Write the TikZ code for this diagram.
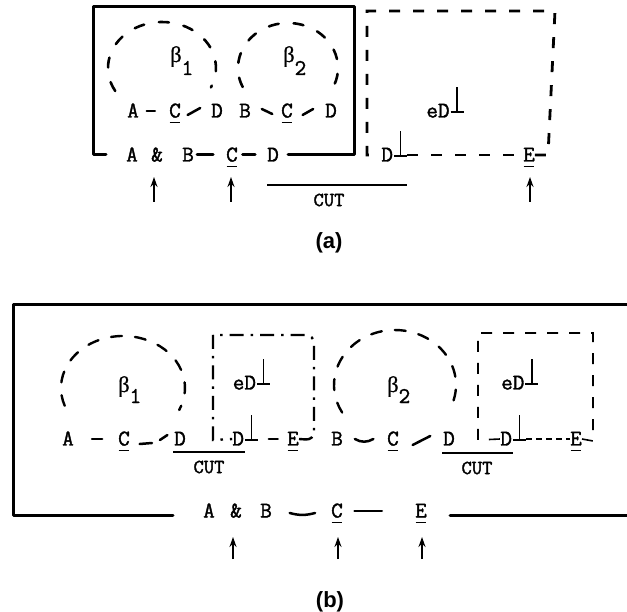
\documentclass[tikz,border=0pt]{standalone}
\usepackage{fontspec}
\newfontfamily\tw[FakeBold=1.6]{Latin Modern Mono}
\newfontfamily\grk[FakeBold=0.8]{Liberation Serif}
\newfontfamily\lblfont{Liberation Sans}
\usetikzlibrary{calc,arrows.meta}
\newcommand\perpm{\kern1pt\rlap{\rule[4.5pt]{13pt}{1.6pt}}\kern5.7pt\rule[4.5pt]{1.6pt}{25.5pt}\kern5.7pt}
\newcommand\und[1]{\setbox0\hbox{#1}\rlap{\kern0.5pt\rule[-6pt]{\dimexpr\wd0-1pt\relax}{1.5pt}}\box0}
\newcommand\seg[5][]{\draw[#1] ($(#2)!#4!(#3)$) -- ($(#2)!#5!(#3)$);}
\newcommand\bet{{\grk β}}
\tikzset{
  txt/.style={font=\tw\fontsize{22.5}{24}\selectfont, inner sep=0pt, text height=13pt, text depth=0pt},
  cuttxt/.style={font=\tw\fontsize{20}{22}\selectfont, inner sep=0pt},
  lbl/.style={font=\lblfont\bfseries\fontsize{22}{24}\selectfont, inner sep=0pt},
  solidline/.style={line width=3pt, line cap=round, line join=round},
  sdash/.style={line width=2.5pt, line cap=round},
  loopa/.style={line width=2.6pt, dash pattern=on 10pt off 15pt, line cap=round},
  loopb/.style={line width=2.4pt, dash pattern=on 11pt off 13pt, line cap=round},
  boxa/.style={line width=2.8pt, dash pattern=on 11pt off 13pt},
  boxdd/.style={line width=2.4pt, dash pattern=on 14pt off 7pt on 2.5pt off 7pt},
  boxb/.style={line width=1.6pt, dash pattern=on 11pt off 11pt},
  shortd/.style={line width=1.6pt, dash pattern=on 6pt off 4pt},
  cutline/.style={line width=1.5pt},
  uparrow/.style={line width=1.8pt, -{Stealth[length=10pt,width=7pt]}}
}
\begin{document}
\begin{tikzpicture}[x=1pt,y=-1pt]
\useasboundingbox (0,0) rectangle (627,612);
% ================= (a) =================
% upper row
\node[txt] (aA1) at (133,111) {A};
\node[txt] (aC1) at (175,111) {\und{C}};
\node[txt] (aD1) at (217,111) {D};
\node[txt] (aB2) at (245,111) {B};
\node[txt] (aC2) at (287,111) {\und{C}};
\node[txt] (aD2) at (331,111) {D};
\node[txt, anchor=base west] (ab1) at (170,62) {\bet\raisebox{-13pt}{1}};
\node[txt, anchor=base west] (ab2) at (283,62) {\bet\raisebox{-13pt}{2}};
\node[txt, anchor=west] (aeD) at (426.2,111) {eD\perpm};
% lower row
\node[txt] (aA) at (132,155) {A};
\node[txt] (aAmp) at (157,155) {\&};
\node[txt] (aB) at (188,155) {B};
\node[txt] (aC) at (232,155) {\und{C}};
\node[txt] (aD) at (273,155) {D};
\node[txt, anchor=west] (aDp) at (381.2,155) {D\perpm};
\node[txt] (aE) at (529,155) {\und{E}};
% loops
\draw[loopa] (162,68) ++(150:54 and 46) arc[start angle=150, end angle=385, x radius=54, y radius=46];
\draw[loopa] (288,68) ++(155:50 and 45) arc[start angle=155, end angle=390, x radius=50, y radius=45];
\seg[sdash]{aA1.east}{aC1.west}{.26}{.53}
\draw[sdash] ($(aC1.east)!.22!(aD1.west)+(0,4)$) -- ($(aC1.east)!.64!(aD1.west)+(0,-3)$);
\draw[sdash] ($(aB2.east)!.36!(aC2.west)+(0,-2)$) -- ($(aC2.west)!.29!(aB2.east)+(0,3)$);
\draw[sdash] ($(aC2.east)!.3!(aD2.west)+(0,4)$) -- ($(aC2.east)!.63!(aD2.west)+(0,-2)$);
% solid box
\coordinate (aSL) at (106,155);
\coordinate (aSR) at (288,155);
\draw[solidline] (aSL) -- (93,155) -- (93,7) -- (354,7) -- (354,155) -- (aSR);
\seg[solidline]{aB.east}{aC.west}{.1}{.6}
\seg[solidline]{aC.east}{aD.west}{.16}{.59}
% dashed box
\draw[boxa] (aE.east) -- (548,155) -- (555,11) -- (367,11) -- (367,155) -- (aDp.west);
\draw[boxa] (aDp.east) -- (aE.west);
% cut
\coordinate (aCutL) at (267,185);
\coordinate (aCutR) at (407,185);
\draw[cutline] (aCutL) -- (aCutR);
\node[cuttxt] (aCut) at (329,200) {CUT};
% arrows
\coordinate (aq1b) at (154,202); \coordinate (aq1t) at (154,177);
\coordinate (aq2b) at (231,202); \coordinate (aq2t) at (231,177);
\coordinate (aq3b) at (530,202); \coordinate (aq3t) at (530,177);
\draw[uparrow] (aq1b) -- (aq1t);
\draw[uparrow] (aq2b) -- (aq2t);
\draw[uparrow] (aq3b) -- (aq3t);
\node[lbl] (la) at (329,243) {(a)};
% ================= (b) =================
% solid frame
\coordinate (bTR) at (627,305);
\coordinate (bSL) at (173,515);
\coordinate (bSR) at (450,515);
\coordinate (bBR) at (627,515);
\draw[solidline] (bTR) -- (13,305) -- (13,515) -- (bSL);
\draw[solidline] (bSR) -- (bBR);
% lower row
\node[txt] (bA) at (209,511) {A};
\node[txt] (bAmp) at (236,511) {\&};
\node[txt] (bB) at (266,511) {B};
\node[txt] (bC) at (337,511) {\und{C}};
\node[txt] (bE) at (421,511) {\und{E}};
\draw[sdash] ($(bB.east)!.3!(bC.west)+(0,2)$) to[bend right=15] ($(bB.east)!.73!(bC.west)+(0,2)$);
\seg[sdash]{bC.east}{bE.west}{.16}{.54}
\coordinate (bq1b) at (233,559); \coordinate (bq1t) at (233,537);
\coordinate (bq2b) at (338,559); \coordinate (bq2t) at (338,537);
\coordinate (bq3b) at (422,559); \coordinate (bq3t) at (422,537);
\draw[uparrow] (bq1b) -- (bq1t);
\draw[uparrow] (bq2b) -- (bq2t);
\draw[uparrow] (bq3b) -- (bq3t);
\node[lbl] (lb) at (330,602) {(b)};
% upper row, first group
\node[txt] (b1A) at (68,439) {A};
\node[txt] (b1C) at (124,439) {\und{C}};
\node[txt] (b1D) at (180,439) {D};
\node[txt, anchor=west] (b1Dp) at (232.2,439) {D\perpm};
\node[txt] (b1E) at (293,439) {\und{E}};
\node[txt, anchor=west] (b1eD) at (232.6,383) {eD\perpm};
\node[txt, anchor=base west] (bb1) at (118,392) {\bet\raisebox{-11pt}{1}};
\draw[loopb] (123,388) ++(160:62 and 52) arc[start angle=160, end angle=385, x radius=62, y radius=52];
\seg[sdash]{b1A.east}{b1C.west}{.41}{.64}
\draw[sdash] ($(b1C.east)!.22!(b1D.west)+(0,5)$) -- ($(b1C.east)!.5!(b1D.west)+(0,4)$);
\draw[sdash] ($(b1C.east)!.68!(b1D.west)+(0,1)$) -- ($(b1C.east)!.85!(b1D.west)+(0,-4)$);
\seg[sdash]{b1Dp.east}{b1E.west}{.37}{.68}
\coordinate (b1TR) at (314,335);
\coordinate (b1TL) at (213,335);
\draw[boxdd, rounded corners=8pt] (b1E.east) -- (314,440) -- (b1TR) -- (b1TL);
\draw[boxdd] (b1TL) -- (213,440) -- (b1Dp.west);
\coordinate (b1CutL) at (173,452); \coordinate (b1CutR) at (245,452);
\draw[cutline] (b1CutL) -- (b1CutR);
\node[cuttxt] (b1Cut) at (209,467) {CUT};
% upper row, second group
\node[txt] (b2B) at (337,439) {B};
\node[txt] (b2C) at (393,439) {\und{C}};
\node[txt] (b2D) at (449,439) {D};
\node[txt, anchor=west] (b2Dp) at (500.2,439) {D\perpm};
\node[txt] (b2E) at (576,439) {\und{E}};
\node[txt, anchor=west] (b2eD) at (501,383) {eD\perpm};
\node[txt, anchor=base west] (bb2) at (387,392) {\bet\raisebox{-11pt}{2}};
\draw[loopb] (395,385) ++(150:61 and 55) arc[start angle=150, end angle=385, x radius=61, y radius=55];
\draw[sdash] ($(b2B.east)!.27!(b2C.west)$) to[bend right=30] ($(b2B.east)!.69!(b2C.west)$);
\draw[sdash] ($(b2C.east)!.31!(b2D.west)+(0,6)$) -- ($(b2C.east)!.71!(b2D.west)+(0,-3)$);
\draw[shortd] (b2Dp.east) -- (b2E.west);
\draw[boxb] (b2E.east) -- (593,441) -- (593,333) -- (478,333) -- (478,440) -- (b2Dp.west);
\coordinate (b2CutL) at (442,453); \coordinate (b2CutR) at (513,453);
\draw[cutline] (b2CutL) -- (b2CutR);
\node[cuttxt] (b2Cut) at (477,468) {CUT};
\end{tikzpicture}
\end{document}
